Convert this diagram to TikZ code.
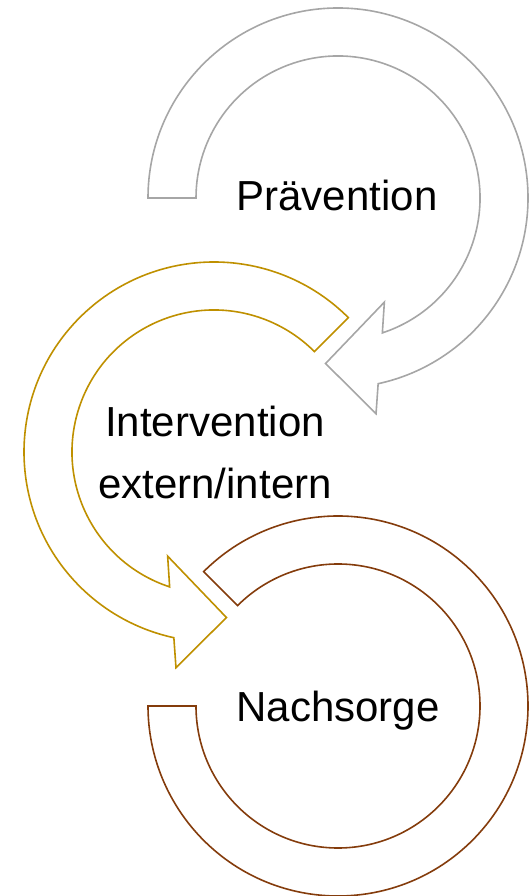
\documentclass[tikz,border=0pt]{standalone}
\usepackage{fontspec}
\setmainfont{Liberation Sans}
\definecolor{grau}{HTML}{A6A6A6}
\definecolor{gold}{HTML}{BF9000}
\definecolor{braun}{HTML}{843C0C}
\tikzset{%
    ring/.style={line width=1.6pt, line join=miter},
    txt/.style={inner sep=0pt, align=center, font=\fontsize{42}{62}\selectfont}
}

\begin{document}
\begin{tikzpicture}[x=1pt,y=1pt]
        \useasboundingbox (0,0) rectangle (528,896);

        \draw[ring,grau,shift={(338,698)}] (180:190) arc[start angle=180, end angle=-77.8, radius=190]
            -- (-80:219) -- (-94.3:166) -- (-66:114) -- (-71.8:142)
            arc[start angle=-71.8, end angle=180, radius=142] -- cycle;
        \draw[ring,gold,shift={(214,444)}] (45:190) arc[start angle=45, end angle=257.8, radius=190]
            -- (260:219) -- (274.3:166) -- (246:114) -- (251.8:142)
            arc[start angle=251.8, end angle=45, radius=142] -- cycle;
        \draw[ring,braun,shift={(338,190)}] (135:190) arc[start angle=135, end angle=-180, radius=190]
            -- (180:142) arc[start angle=-180, end angle=135, radius=142] -- cycle;

        \node[txt,anchor=base] (prae) at (337,685) {Prävention};
        \node[txt] (inter) at (215,444) {Intervention\\extern/intern};
        \node[txt,anchor=base] (nach) at (338,174) {Nachsorge};
    \end{tikzpicture}
\end{document}
